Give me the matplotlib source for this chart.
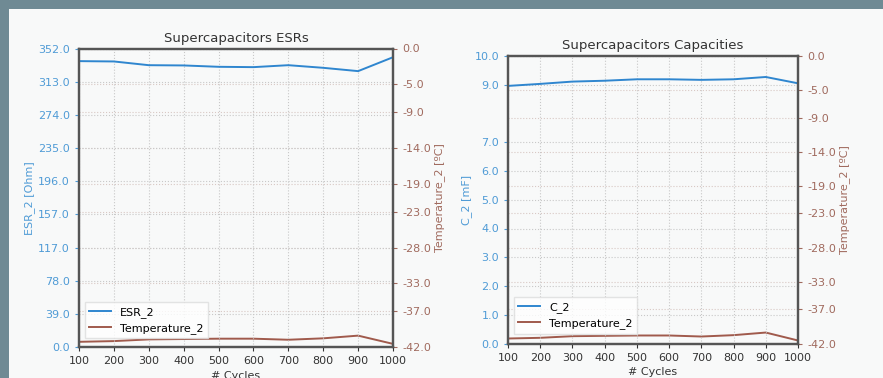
import matplotlib
matplotlib.use('Agg')
import matplotlib.pyplot as plt
from matplotlib.patches import Rectangle

# data
cycles = [100, 200, 300, 400, 500, 600, 700, 800, 900, 1000]
esr_2 = [337.4, 337.0, 332.6, 332.3, 330.7, 330.3, 332.6, 329.5, 325.6, 342.0]
c_2 = [8.96, 9.03, 9.11, 9.14, 9.19, 9.19, 9.17, 9.19, 9.27, 9.05]
temp_2 = [-41.27, -41.17, -40.93, -40.88, -40.83, -40.83, -40.98, -40.78, -40.40, -41.56]

esr_ticks = [0.0, 39.0, 78.0, 117.0, 157.0, 196.0, 235.0, 274.0, 313.0, 352.0]
cap_ticks = [0.0, 1.0, 2.0, 3.0, 4.0, 5.0, 6.0, 7.0, 9.0, 10.0]
temp_ticks = [-42.0, -37.0, -33.0, -28.0, -23.0, -19.0, -14.0, -9.0, -5.0, 0.0]

W, H = 883, 378
BLUE = '#2f86cf'
BLUE_TXT = '#4f9bd6'
BROWN = '#a05a4c'
BROWN_TXT = '#a06a5e'
BG = '#f8f9f9'
FS = 8

plt.rcParams['font.family'] = 'DejaVu Sans'
plt.rcParams['font.size'] = FS

fig = plt.figure(figsize=(W / 100, H / 100), dpi=100)
fig.patch.set_facecolor('#6f8a94')
fig.patches.append(Rectangle((9 / W, 0), 1, (H - 9) / H, transform=fig.transFigure,
                             facecolor=BG, edgecolor='none', zorder=-5))


def px_axes(x0, y0, x1, y1):
    return fig.add_axes([x0 / W, (H - y1) / H, (x1 - x0) / W, (y1 - y0) / H])


def panel(ax, vals, ticks, ylim, name, ylabel, title, leg_y):
    ax2 = ax.twinx()
    l2, = ax2.plot(cycles, temp_2, color=BROWN, lw=1.4, label='Temperature_2')
    ax2.set_ylim(-42, 0)
    ax2.set_yticks(temp_ticks)
    ax2.set_yticklabels(['%.1f' % t for t in temp_ticks])
    ax2.tick_params(axis='y', colors=BROWN_TXT, labelsize=FS, length=3)
    ax2.set_ylabel('Temperature_2 [ºC]', color=BROWN_TXT, fontsize=FS, labelpad=2)
    ax2.grid(True, linestyle=':', color='#d8c8c4', lw=0.8)
    ax2.set_facecolor(BG)

    l1, = ax.plot(cycles, vals, color=BLUE, lw=1.4, label=name)
    ax.set_xlim(100, 1000)
    ax.set_xticks(cycles)
    ax.set_ylim(*ylim)
    ax.set_yticks(ticks)
    ax.set_yticklabels(['%.1f' % t for t in ticks])
    ax.tick_params(axis='y', colors=BLUE_TXT, labelsize=FS, length=3)
    ax.tick_params(axis='x', colors='#333333', labelsize=FS, length=3)
    ax.set_ylabel(ylabel, color=BLUE_TXT, fontsize=FS, labelpad=2)
    ax.set_xlabel('# Cycles', color='#333333', fontsize=FS, labelpad=3.5)
    ax.set_title(title, fontsize=9.5, color='#333333', pad=5)
    ax.grid(True, linestyle=':', color='#c8c8c8', lw=0.8)

    for a in (ax, ax2):
        for s in a.spines.values():
            s.set_color('#555555')
            s.set_linewidth(1.6)

    ax.set_zorder(ax2.get_zorder() + 1)
    ax.patch.set_visible(False)
    ax.legend([l1, l2], [name, 'Temperature_2'], loc='lower left', fontsize=FS,
              bbox_to_anchor=(0, leg_y), frameon=True, framealpha=0.8,
              edgecolor='#dddddd', fancybox=False)


ax_l = px_axes(79, 48.5, 393, 347)
panel(ax_l, esr_2, esr_ticks, (0, 352.3), 'ESR_2', 'ESR_2 [Ohm]',
      'Supercapacitors ESRs', 0.01)

ax_r = px_axes(508, 56, 798, 343.5)
panel(ax_r, c_2, cap_ticks, (0, 10), 'C_2', 'C_2 [mF]',
      'Supercapacitors Capacities', 0.015)

fig.savefig('out.png', dpi=100, facecolor=fig.get_facecolor())
